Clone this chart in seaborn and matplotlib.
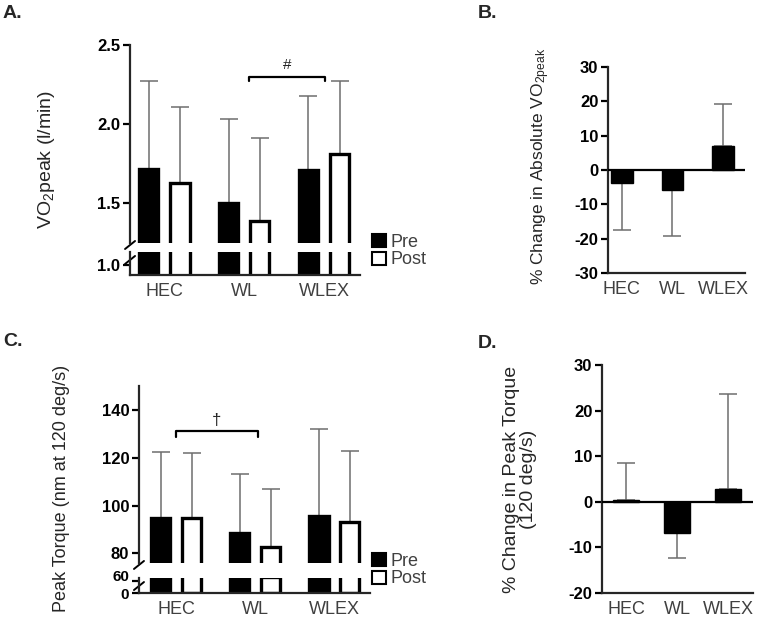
import pandas as pd
import seaborn as sns
import matplotlib.pyplot as plt
from matplotlib.patches import Patch
from matplotlib.ticker import FormatStrFormatter

# valores
grupos = ["HEC", "WL", "WLEX"]
vo2_pre = [1.72, 1.50, 1.71]
vo2_pre_dp = [0.55, 0.53, 0.47]
vo2_pos = [1.63, 1.39, 1.81]
vo2_pos_dp = [0.48, 0.52, 0.46]
torque_pre = [95.0, 88.5, 95.5]
torque_pre_dp = [27.5, 24.5, 36.5]
torque_pos = [94.8, 82.5, 93.3]
torque_pos_dp = [27.2, 24.5, 29.7]
vo2_delta = [-3.8, -5.8, 7.0]
vo2_delta_dp = [13.7, 13.4, 12.3]
torque_delta = [0.3, -6.8, 2.8]
torque_delta_dp = [8.1, 5.6, 20.9]

sns.set_theme(style="ticks")
plt.rcParams["font.family"] = ["Liberation Sans", "DejaVu Sans"]
plt.rcParams["mathtext.default"] = "regular"
plt.rcParams["axes.linewidth"] = 1.6
plt.rcParams["axes.unicode_minus"] = False

fig = plt.figure(figsize=(7.64, 6.22), dpi=100)
cinza_txt = "#404040"
cinza_erro = "#6e6e6e"


def estilo_y(ax, tamanho=12):
    ax.tick_params(axis="y", width=1.6, length=5, labelsize=tamanho, colors="black", pad=2)
    plt.setp(ax.get_yticklabels(), fontweight="bold")


def prepost(ax_top, ax_bot, pre, pre_dp, pos, pos_dp, lim_top, lim_bot, ticks_top, ticks_bot, xlim, cap):
    dados = pd.DataFrame({"grupo": grupos * 2,
                          "tempo": ["Pre"] * 3 + ["Post"] * 3,
                          "valor": pre + pos})
    for ax in (ax_top, ax_bot):
        sns.barplot(data=dados, x="grupo", y="valor", hue="tempo", hue_order=["Pre", "Post"],
                    palette={"Pre": "black", "Post": "white"}, saturation=1,
                    edgecolor="black", linewidth=2.4, width=0.78, gap=0.38,
                    errorbar=None, legend=False, ax=ax, zorder=2)
        ax.set_xlim(xlim)
        ax.set_xlabel("")
        ax.set_ylabel("")
        sns.despine(ax=ax)
    # barras de erro só para cima (atrás das barras)
    for cont, dp in zip(ax_top.containers, [pre_dp, pos_dp]):
        xs = [p.get_x() + p.get_width() / 2 for p in cont]
        ys = [p.get_height() for p in cont]
        ax_top.errorbar(xs, ys, yerr=[[0] * 3, dp], fmt="none", ecolor=cinza_erro,
                        elinewidth=1.1, capsize=cap, capthick=1.1, zorder=1)
    ax_top.set_ylim(lim_top)
    ax_top.set_yticks(ticks_top)
    ax_top.spines["bottom"].set_visible(False)
    ax_top.tick_params(axis="x", bottom=False, labelbottom=False)
    ax_bot.set_ylim(lim_bot)
    ax_bot.set_yticks(ticks_bot)
    ax_bot.tick_params(axis="x", length=0, labelsize=13, colors=cinza_txt, pad=6)
    estilo_y(ax_top)
    estilo_y(ax_bot)
    # marcas de quebra do eixo
    kw = dict(color="black", lw=1.4, clip_on=False)
    h_top = ax_top.get_position().height * 622
    h_bot = ax_bot.get_position().height * 622
    w = ax_top.get_position().width * 764
    ax_top.plot([-5 / w, 5 / w], [-6 / h_top, 2 / h_top], transform=ax_top.transAxes, **kw)
    ax_bot.plot([-5 / w, 5 / w], [1 - 12 / h_bot, 1 - 4 / h_bot], transform=ax_bot.transAxes, **kw)


def delta(ax, vals, dp, xlim, ylim, ticks, largura, cap):
    sns.barplot(x=grupos, y=vals, color="black", saturation=1, width=largura,
                edgecolor="black", linewidth=1, ax=ax, zorder=2)
    cont = ax.containers[0]
    xs = [p.get_x() + p.get_width() / 2 for p in cont]
    baixo = [d if v < 0 else 0 for v, d in zip(vals, dp)]
    cima = [d if v >= 0 else 0 for v, d in zip(vals, dp)]
    ax.errorbar(xs, vals, yerr=[baixo, cima], fmt="none", ecolor=cinza_erro,
                elinewidth=1.1, capsize=cap, capthick=1.1, zorder=1)
    ax.axhline(0, color="black", lw=1.6, zorder=3)
    ax.set_xlim(xlim)
    ax.set_ylim(ylim)
    ax.set_yticks(ticks)
    sns.despine(ax=ax)
    ax.tick_params(axis="x", length=0, labelsize=13, colors=cinza_txt, pad=6)
    estilo_y(ax)


# A. VO2peak
axA = fig.add_axes([0.1702, 0.6093, 0.3010, 0.3183])
axA2 = fig.add_axes([0.1702, 0.5579, 0.3010, 0.0370])
prepost(axA, axA2, vo2_pre, vo2_pre_dp, vo2_pos, vo2_pos_dp,
        (1.25, 2.5), (0.9, 1.13), [1.5, 2.0, 2.5], [1.0], (-0.43, 2.45), 6.8)
axA.yaxis.set_major_formatter(FormatStrFormatter("%.1f"))
axA2.yaxis.set_major_formatter(FormatStrFormatter("%.1f"))
estilo_y(axA)
estilo_y(axA2)
axA.plot([1.06, 1.06, 2.01, 2.01], [2.275, 2.30, 2.30, 2.275], color="black", lw=1.6)
axA.text(1.535, 2.33, "#", ha="center", va="bottom", fontsize=11, color="#222222")
axA.set_ylabel("VO$_2$peak (l/min)", fontsize=14)
axA.yaxis.set_label_coords(-0.317, 0.42)

# B. variação VO2peak
axB = fig.add_axes([0.7958, 0.5611, 0.1793, 0.3312])
delta(axB, vo2_delta, vo2_delta_dp, (-0.27, 2.43), (-30, 30), range(-30, 31, 10), 0.43, 6.5)
axB.set_ylabel("% Change in Absolute VO$_{2peak}$", fontsize=12.5)
axB.yaxis.set_label_coords(-0.41, 0.52)

# C. torque
axC = fig.add_axes([0.1819, 0.0949, 0.3024, 0.2846])
axC2 = fig.add_axes([0.1819, 0.0466, 0.3024, 0.0241])
prepost(axC, axC2, torque_pre, torque_pre_dp, torque_pos, torque_pos_dp,
        (76, 150), (0, 75), [80, 100, 120, 140], [0, 60], (-0.47, 2.45), 6.8)
# os rótulos 0 e 60 ficam colados, como no original
axC2.tick_params(axis="y", labelsize=11)
axC2.get_yticklabels()[1].set_verticalalignment("baseline")
axC.plot([0, 0, 1.03, 1.03], [128.5, 131, 131, 128.5], color="black", lw=1.6)
axC.text(0.515, 132.3, "\u2020", ha="center", va="bottom", fontsize=12, color="#222222")
axC.set_ylabel("Peak Torque (nm at 120 deg/s)", fontsize=13)
axC.yaxis.set_label_coords(-0.30, 0.42)

# D. variação torque
axD = fig.add_axes([0.7880, 0.0466, 0.1976, 0.3666])
delta(axD, torque_delta, torque_delta_dp, (-0.47, 2.49), (-20, 30), range(-20, 31, 10), 0.5, 6.5)
axD.set_ylabel("% Change in Peak Torque\n(120 deg/s)", fontsize=14, linespacing=1.0)
axD.yaxis.set_label_coords(-0.43, 0.50)

# legendas
alcas = [Patch(facecolor="black", edgecolor="black", linewidth=1.5),
         Patch(facecolor="white", edgecolor="black", linewidth=1.5)]
for y in (1 - 251 / 622, 1 - 570 / 622):
    fig.legend(handles=alcas, labels=["Pre", "Post"], loc="center left",
               bbox_to_anchor=(372 / 764, y), frameon=False, fontsize=13,
               handlelength=0.75, handleheight=0.75, handletextpad=0.3,
               labelspacing=0.05, borderpad=0, borderaxespad=0, labelcolor=cinza_txt)

for letra, x, y in [("A.", 3, 14), ("B.", 478, 14), ("C.", 3, 342), ("D.", 478, 343)]:
    fig.text(x / 764, 1 - y / 622, letra, fontsize=14, fontweight="bold", va="center")

fig.savefig("out.png", dpi=100)
